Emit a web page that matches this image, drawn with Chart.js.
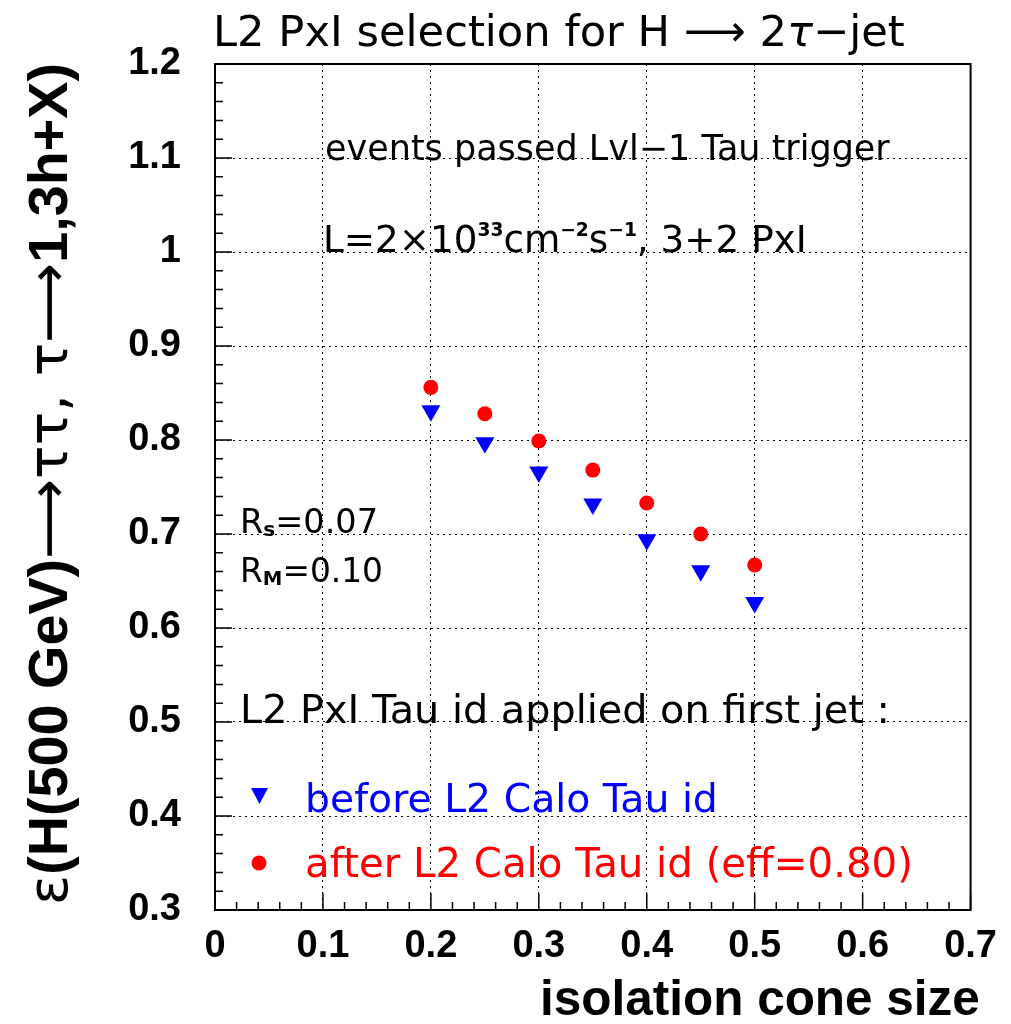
<!DOCTYPE html>
<html>
<head>
<meta charset="utf-8">
<style>
  html, body { margin: 0; padding: 0; background: #fff; }
  #wrap { width: 1011px; height: 1024px; }
</style>
<script src="https://cdn.jsdelivr.net/npm/chart.js@4"></script>
</head>
<body>
<div id="wrap"><canvas id="grafica"></canvas></div>
<script>
// datos
const conos = [0.2, 0.25, 0.3, 0.35, 0.4, 0.45, 0.5];
const antesCalo = [0.831, 0.797, 0.766, 0.732, 0.694, 0.661, 0.627];   // before L2 Calo Tau id
const despuesCalo = [0.856, 0.828, 0.799, 0.768, 0.733, 0.700, 0.667]; // after L2 Calo Tau id
const ejeX = { min: 0, max: 0.7, paso: 0.1, menor: 0.02 };
const ejeY = { min: 0.3, max: 1.2, paso: 0.1, menor: 0.02 };

const fuenteTxt = '"DejaVu Sans", sans-serif';
const fuenteNum = '"Liberation Sans", Arial, sans-serif';

const puntos = (ys) => conos.map((x, i) => ({ x: x, y: ys[i] }));

function fmt(v) {
    return String(Number(v.toFixed(2)));
}

// dibuja texto por segmentos y lo ajusta al ancho pedido
function textoRico(ctx, segs, x, base, ancho, color) {
    const medir = (s, f) => {
        ctx.font = (s.italic ? 'italic ' : '') + (s.bold ? 'bold ' : '') + (f * (s.scale || 1)) + 'px ' + (s.family || fuenteTxt);
        return ctx.measureText(s.t).width;
    };
    let w = 0;
    segs.forEach(s => w += medir(s, 100));
    const f = 100 * ancho / w;
    let cx = x;
    ctx.fillStyle = color;
    ctx.textBaseline = 'alphabetic';
    ctx.textAlign = 'left';
    segs.forEach(s => {
        const sw = medir(s, f);
        ctx.fillText(s.t, cx, base + (s.dy || 0) * f);
        cx += sw;
    });
}

const anotaciones = {
    id: 'anotaciones',
    afterDraw(chart) {
        const ctx = chart.ctx;
        const a = chart.chartArea;
        const sx = chart.scales.x, sy = chart.scales.y;
        ctx.save();

        // marco
        ctx.strokeStyle = '#000';
        ctx.lineWidth = 2;
        ctx.strokeRect(a.left, a.top, a.right - a.left, a.bottom - a.top);

        // marcas hacia adentro en eje izquierdo e inferior
        ctx.lineWidth = 1.5;
        ctx.beginPath();
        for (let v = ejeX.min; v <= ejeX.max + 1e-9; v += ejeX.menor) {
            const px = sx.getPixelForValue(v);
            const mayor = Math.abs(v / ejeX.paso - Math.round(v / ejeX.paso)) < 1e-6;
            ctx.moveTo(px, a.bottom);
            ctx.lineTo(px, a.bottom - (mayor ? 17 : 8));
        }
        for (let v = ejeY.min; v <= ejeY.max + 1e-9; v += ejeY.menor) {
            const py = sy.getPixelForValue(v);
            const mayor = Math.abs(v / ejeY.paso - Math.round(v / ejeY.paso)) < 1e-6;
            ctx.moveTo(a.left, py);
            ctx.lineTo(a.left + (mayor ? 17 : 8), py);
        }
        ctx.stroke();

        // titulo
        textoRico(ctx, [
            { t: 'L2 PxI selection for H ' },
            { t: '\u27F6', family: '"DejaVu Sans", sans-serif' },
            { t: ' 2' },
            { t: '\u03C4', italic: true },
            { t: '\u2212jet' }
        ], 213, 46, 692, '#000');

        textoRico(ctx, [{ t: 'events passed Lvl\u22121 Tau trigger' }], 325, 160, 565, '#000');

        textoRico(ctx, [
            { t: 'L=2\u00D710' },
            { t: '33', scale: 0.5, dy: -0.42, bold: true },
            { t: 'cm' },
            { t: '\u22122', scale: 0.5, dy: -0.42, bold: true },
            { t: 's' },
            { t: '\u22121', scale: 0.5, dy: -0.42, bold: true },
            { t: ', 3+2 PxI' }
        ], 323, 252, 484, '#000');

        textoRico(ctx, [
            { t: 'R' }, { t: 's', scale: 0.6, dy: 0.08, bold: true }, { t: '=0.07' }
        ], 240, 533, 138, '#000');
        textoRico(ctx, [
            { t: 'R' }, { t: 'M', scale: 0.6, dy: 0.08, bold: true }, { t: '=0.10' }
        ], 240, 582, 143, '#000');

        textoRico(ctx, [{ t: 'L2 PxI Tau id applied on first jet :' }], 240, 723, 650, '#000');

        // leyenda
        ctx.fillStyle = '#0000ff';
        ctx.beginPath();
        ctx.moveTo(251, 788);
        ctx.lineTo(268, 788);
        ctx.lineTo(259.5, 804);
        ctx.closePath();
        ctx.fill();
        textoRico(ctx, [{ t: 'before L2 Calo Tau id' }], 305, 812, 413, '#0000ff');

        ctx.fillStyle = '#ff0000';
        ctx.beginPath();
        ctx.arc(259, 863, 7.5, 0, Math.PI * 2);
        ctx.fill();
        textoRico(ctx, [{ t: 'after L2 Calo Tau id (eff=0.80)' }], 305, 877, 608, '#ff0000');

        // titulo eje x
        textoRico(ctx, [{ t: 'isolation cone size', bold: true, family: fuenteNum }], 540, 1015, 440, '#000');

        // titulo eje y (rotado, alineado arriba)
        ctx.save();
        ctx.translate(67, 905);
        ctx.rotate(-Math.PI / 2);
        textoRico(ctx, [
            { t: '\u03B5', family: fuenteTxt },
            { t: '(H(500 GeV)', bold: true, family: fuenteNum },
            { t: '\u27F6\u03C4\u03C4, \u03C4\u27F6', family: fuenteTxt },
            { t: '1,3h+X)', bold: true, family: fuenteNum }
        ], 0, 0, 842, '#000');
        ctx.restore();

        ctx.restore();
    }
};

const ctx = document.getElementById('grafica').getContext('2d');
new Chart(ctx, {
    type: 'scatter',
    data: {
        datasets: [
            {
                label: 'before L2 Calo Tau id',
                data: puntos(antesCalo),
                pointStyle: 'triangle',
                rotation: 180,
                radius: 11,
                backgroundColor: '#0000ff',
                borderColor: '#0000ff',
                borderWidth: 0
            },
            {
                label: 'after L2 Calo Tau id (eff=0.80)',
                data: puntos(despuesCalo),
                pointStyle: 'circle',
                radius: 7.5,
                backgroundColor: '#ff0000',
                borderColor: '#ff0000',
                borderWidth: 0
            }
        ]
    },
    options: {
        responsive: true,
        maintainAspectRatio: false,
        animation: false,
        layout: { padding: { left: 0, top: 64, right: 28, bottom: 0 } },
        plugins: {
            legend: { display: false },
            tooltip: { enabled: false }
        },
        scales: {
            x: {
                type: 'linear',
                min: ejeX.min,
                max: ejeX.max,
                afterFit: (s) => { s.height = 114; },
                ticks: {
                    stepSize: ejeX.paso,
                    color: '#000',
                    padding: 14,
                    maxRotation: 0,
                    font: { family: fuenteNum, size: 38, weight: 'bold' },
                    callback: (v) => fmt(v)
                },
                grid: { color: '#000', lineWidth: 1, drawTicks: false },
                border: { display: false, dash: [2, 4] }
            },
            y: {
                type: 'linear',
                min: ejeY.min,
                max: ejeY.max,
                afterFit: (s) => { s.width = 215; },
                ticks: {
                    stepSize: ejeY.paso,
                    color: '#000',
                    padding: 34,
                    font: { family: fuenteNum, size: 38, weight: 'bold' },
                    callback: (v) => fmt(v)
                },
                grid: { color: '#000', lineWidth: 1, drawTicks: false },
                border: { display: false, dash: [2, 4] }
            }
        }
    },
    plugins: [anotaciones]
});
</script>
</body>
</html>
